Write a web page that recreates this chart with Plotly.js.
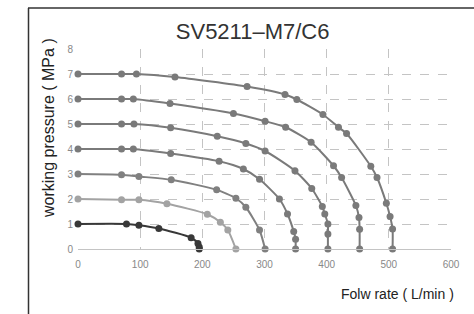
<!DOCTYPE html>
<html><head><meta charset="utf-8">
<script src="https://cdn.plot.ly/plotly-3.0.1.min.js"></script>
<style>html,body{margin:0;padding:0;background:#fff}#chart{width:474px;height:314px}</style>
</head><body><div id="chart"></div>
<script>
const seriesNames = ["1 MPa","2 MPa","3 MPa","4 MPa","5 MPa","6 MPa","7 MPa"];
const flow1 = [0,78,98,130,182,193,195,195];
const pres1 = [1,1,0.95,0.82,0.45,0.22,0.08,0];
const flow2 = [0,70,98,143,208,229,241,254];
const pres2 = [2,1.97,1.97,1.81,1.39,1.07,0.76,0];
const flow3 = [0,70,98,150,223,254,270,292,301];
const pres3 = [3,2.97,2.9,2.77,2.37,2.03,1.67,0.76,0];
const flow4 = [0,70,89,149,227,266,292,324,337,347,350,350];
const pres4 = [4,4,4,3.82,3.51,3.2,2.79,2.0,1.4,0.7,0.39,0];
const flow5 = [0,70,90,149,224,270,301,349,376,393,397,402,402,402];
const pres5 = [5,5,5,4.85,4.51,4.22,3.92,3.13,2.42,1.7,1.4,1.0,0.6,0];
const flow6 = [0,70,89,148,250,301,334,375,411,424,447,452,453,453];
const pres6 = [6,6,6,5.82,5.42,5.11,4.87,4.27,3.33,2.86,1.74,1.26,0.79,0];
const flow7 = [0,70,94,156,272,333,352,394,419,432,471,481,496,502,506,506];
const pres7 = [7,7,7,6.88,6.5,6.18,5.98,5.38,4.87,4.62,3.31,2.86,1.83,1.3,0.8,0];
const xTicks = [0,100,200,300,400,500,600];
const yTicks = [0,1,2,3,4,5,6,7,8];

const flows = [flow1,flow2,flow3,flow4,flow5,flow6,flow7];
const press = [pres1,pres2,pres3,pres4,pres5,pres6,pres7];
const colors = ["#383838","#a3a3a3","#808080","#7a7a7a","#7a7a7a","#7a7a7a","#7a7a7a"];

const traces = flows.map((f,i)=>({
  x:f, y:press[i], name:seriesNames[i], type:'scatter', mode:'lines+markers',
  line:{color:colors[i], width:2, shape:'spline', smoothing:0.6},
  marker:{color:colors[i], size:7},
  showlegend:false, cliponaxis:false
}));

const tickFont = {family:'Liberation Sans, Arial, sans-serif', size:10, color:'#888'};
const layout = {
  width:474, height:314,
  margin:{l:78, r:23, t:49, b:65},
  paper_bgcolor:'#fff', plot_bgcolor:'#fff',
  showlegend:false,
  title:{text:'SV5211\u2013M7/C6', x:0.533, xanchor:'center', y:0.9, yanchor:'middle',
         font:{family:'Liberation Sans, Arial, sans-serif', size:22, color:'#333'}},
  xaxis:{range:[0,600], tickvals:xTicks, ticktext:xTicks.map(String), showgrid:true,
         gridcolor:'#c4c4c4', griddash:'dash', gridwidth:1, zeroline:false,
         showline:true, linecolor:'#c4c4c4', linewidth:1, ticks:'', ticklabelstandoff:6,
         tickfont:tickFont, fixedrange:true},
  yaxis:{range:[0,8], tickvals:yTicks, ticktext:yTicks.map(String), showgrid:true,
         gridcolor:'#c4c4c4', griddash:'dash', gridwidth:1, zeroline:false,
         showline:false, ticks:'', ticklabelstandoff:4, tickfont:tickFont, fixedrange:true},
  annotations:[
    {text:'Folw rate ( L/min )', xref:'paper', yref:'paper', x:(456-78)/373, y:(249-294)/200,
     xanchor:'right', yanchor:'middle', showarrow:false,
     font:{family:'Liberation Sans, Arial, sans-serif', size:14, color:'#222'}},
    {text:'working pressure ( MPa )', xref:'paper', yref:'paper', x:(48-78)/373, y:(249-128)/200,
     xanchor:'center', yanchor:'middle', textangle:-90, showarrow:false,
     font:{family:'Liberation Sans, Arial, sans-serif', size:16, color:'#222'}}
  ],
  shapes:[
    {type:'line', xref:'paper', yref:'paper', x0:(28.5-78)/373, x1:(28.5-78)/373, y0:(249-8)/200, y1:(249-320)/200,
     line:{color:'#333', width:1.5}},
    {type:'line', xref:'paper', yref:'paper', x0:(28-78)/373, x1:(480-78)/373, y0:(249-8)/200, y1:(249-8)/200,
     line:{color:'#333', width:1.5}}
  ]
};
Plotly.newPlot('chart', traces, layout, {displayModeBar:false, staticPlot:true});
</script></body></html>
